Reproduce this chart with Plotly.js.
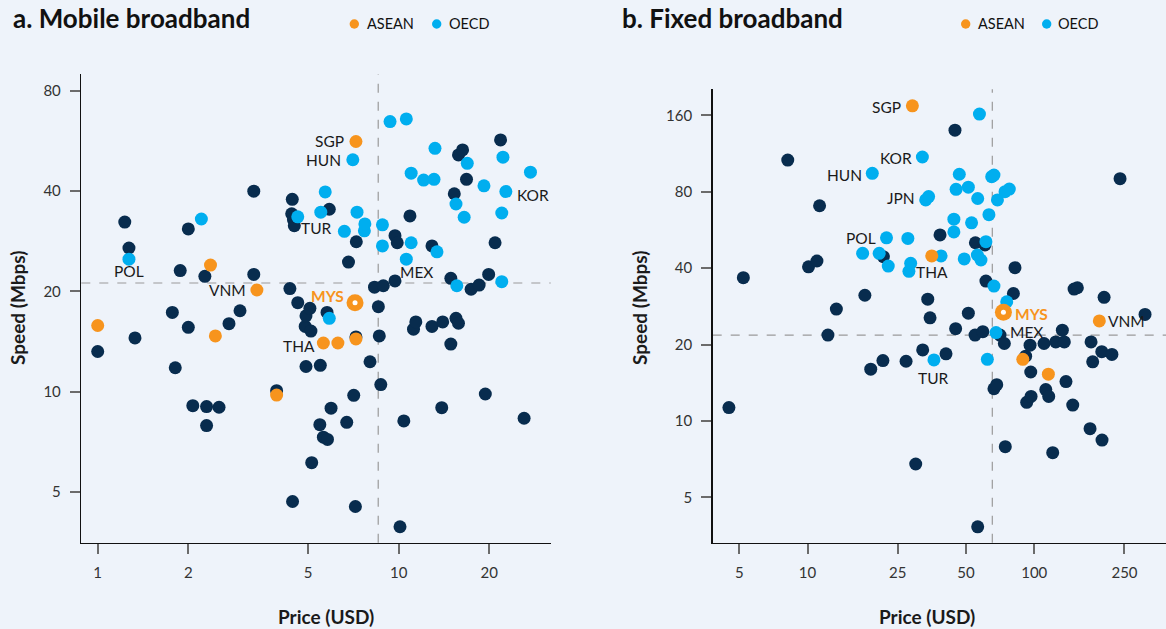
<!DOCTYPE html>
<html>
<head>
<meta charset="utf-8">
<script src="https://cdn.plot.ly/plotly-3.0.1.min.js"></script>
<style>html,body{margin:0;padding:0;background:#eef3fa;}#chart{width:1166px;height:629px;}</style>
</head>
<body>
<div id="chart"></div>
<script>
// ---------- Panel a: Mobile broadband ----------
const mobileOtherPrice = [1.0,1.23,1.27,1.33,1.77,1.81,1.88,2.0,2.0,2.07,2.27,2.30,2.30,2.53,2.73,2.97,3.30,3.30,3.93,4.35,4.41,4.43,4.44,4.47,4.50,4.62,4.89,4.92,4.92,5.07,5.11,5.14,5.47,5.49,5.62,5.78,5.80,5.88,5.96,6.72,6.81,7.09,7.18,7.21,7.23,8.03,8.31,8.56,8.62,8.72,8.89,9.72,9.72,9.89,10.1,10.4,10.9,11.2,11.4,12.9,12.9,13.9,14.0,14.9,14.9,15.3,15.5,15.8,15.8,16.3,16.8,17.4,18.5,19.4,19.9,20.9,21.8,26.1];
const mobileOtherSpeed = [13.2,32.3,27.0,14.5,17.3,11.8,23.1,30.8,15.6,9.08,22.2,9.02,7.91,8.98,16.0,17.5,22.5,40.0,10.07,20.4,34.2,37.8,4.68,32.8,31.5,18.5,15.7,16.9,11.9,17.8,15.2,6.12,7.96,12.0,7.30,17.3,7.19,35.3,8.92,8.09,24.5,9.75,4.52,14.6,28.2,12.3,20.6,18.0,14.7,10.5,20.8,29.4,21.5,28.0,3.93,8.17,33.7,15.4,16.2,27.4,15.7,8.95,16.2,21.9,13.9,39.3,16.6,51.4,16.05,53.2,43.4,20.3,20.9,9.84,22.5,28.0,57.0,8.32];
const mobileOecdPrice = [1.27,2.21,4.62,5.51,5.70,5.88,6.60,7.04,7.27,7.69,7.72,8.83,8.83,9.36,10.6,10.6,11.0,11.0,12.1,13.1,13.2,13.4,15.5,15.6,16.5,16.9,19.2,22.0,22.0,22.2,22.7,27.4];
const mobileOecdSpeed = [25.0,33.0,33.5,34.6,39.8,16.6,30.3,49.7,34.6,30.4,31.9,31.7,27.4,64.7,65.9,25.0,45.3,28.0,43.2,43.4,53.8,26.3,36.6,20.8,33.4,48.5,41.5,34.4,21.4,50.6,39.9,45.6];
const mobileAseanPrice = [1.0,2.37,2.46,3.38,3.93,5.62,6.28,7.21,7.21];
const mobileAseanSpeed = [15.8,24.0,14.7,20.2,9.77,14.0,14.0,14.4,56.4];
const mobileMysPrice = [7.16];
const mobileMysSpeed = [18.5];
const mobileMedianPrice = 8.55;
const mobileMedianSpeed = 21.2;

// ---------- Panel b: Fixed broadband ----------
const fixedOtherPrice = [4.50,5.21,8.18,10.1,11.0,11.3,12.3,13.4,17.9,19.0,21.5,21.6,27.2,30.0,32.2,33.9,34.7,38.4,40.8,44.7,45.0,51.2,54.8,55.0,56.3,59.3,60.6,61.2,66.4,68.3,70.6,73.8,74.5,80.9,82.2,91.6,92.6,95.8,96.5,96.8,110.4,112.4,115.8,120.6,124.4,133,135.7,138,147.8,149.8,154.9,176.2,178,181,198.5,199,203.2,220,239,308];
const fixedOtherSpeed = [11.3,36.7,106.7,40.5,42.7,70.5,21.8,27.6,31.3,16.0,17.3,44.4,17.2,6.77,19.05,30.2,25.5,54.1,18.4,140,23.1,26.6,21.8,50.4,3.83,22.5,49.4,35.6,13.4,13.9,21.8,20.2,7.92,31.8,40.2,18.0,11.85,19.9,15.6,12.5,20.2,13.3,12.5,7.50,20.5,22.8,20.5,14.3,11.56,33.1,33.5,9.33,20.5,17.1,18.75,8.41,30.7,18.3,90.1,26.3];
const fixedOecdPrice = [17.5,19.3,20.7,22.3,22.7,27.7,28.0,28.5,32.1,33.2,34.2,36.1,38.8,44.2,44.2,45.2,46.7,49.1,51.2,52.9,56.1,56.3,57.3,58.2,61.2,62.1,63.1,64.9,66.4,66.4,67.8,68.8,74.3,75.6,77.6];
const fixedOecdSpeed = [45.8,94.6,45.8,52.7,40.8,52.4,38.9,41.8,109.7,74.3,76.6,17.4,44.7,62.4,55.6,81.8,93.8,43.5,83.4,60.4,45.1,75.3,162,43.1,50.9,17.5,65.0,91.8,93.1,34.0,22.3,74.3,80.1,29.5,82.0];
const fixedAseanPrice = [29.0,35.3,89.0,115.4,193.6];
const fixedAseanSpeed = [174.6,44.7,17.5,15.3,24.8];
const fixedMysPrice = [73.1];
const fixedMysSpeed = [26.8];
const fixedMedianPrice = 65.3;
const fixedMedianSpeed = 21.8;

// ---------- Labels ----------
const mobileLabels = ['SGP','HUN','KOR','TUR','MEX','MYS','THA','VNM','POL'];
const mobileLabelPrice = [7.21,7.04,22.7,6.60,10.6,7.16,5.62,3.38,1.27];
const mobileLabelSpeed = [56.4,49.7,39.9,30.3,25.0,18.5,14.0,20.2,25.0];
const fixedLabels = ['SGP','KOR','HUN','JPN','POL','THA','MYS','MEX','VNM','TUR'];
const fixedLabelPrice = [29.0,32.1,19.3,33.2,22.3,35.3,73.1,67.8,193.6,36.1];
const fixedLabelSpeed = [174.6,109.7,94.6,74.3,52.7,44.7,26.8,22.3,24.8,17.4];

const mobileXTicks = [1,2,5,10,20];
const mobileYTicks = [5,10,20,40,80];
const fixedXTicks = [5,10,25,50,100,250];
const fixedYTicks = [5,10,20,40,80,160];

// ---------- Styling ----------
const NAVY = '#082c4e', BLUE = '#00aeef', ORANGE = '#f7941d', BG = '#eef3fa';
const W = 1166, H = 629;
const MS = 13;
const FONT = 'Lato, "Open Sans", sans-serif';

function pts(x, y, color, xa, ya, size) {
  return {type:'scatter', mode:'markers', x:x, y:y, xaxis:xa, yaxis:ya,
    marker:{color:color, size:size||MS, line:{width:0}}, hoverinfo:'x+y', showlegend:false};
}

const traces = [
  pts(mobileOtherPrice, mobileOtherSpeed, NAVY, 'x', 'y'),
  pts(mobileOecdPrice, mobileOecdSpeed, BLUE, 'x', 'y'),
  pts(mobileAseanPrice, mobileAseanSpeed, ORANGE, 'x', 'y'),
  pts(mobileMysPrice, mobileMysSpeed, ORANGE, 'x', 'y', 17),
  pts(mobileMysPrice, mobileMysSpeed, '#ffffff', 'x', 'y', 5),
  pts(fixedOtherPrice, fixedOtherSpeed, NAVY, 'x2', 'y2'),
  pts(fixedOecdPrice, fixedOecdSpeed, BLUE, 'x2', 'y2'),
  pts(fixedAseanPrice, fixedAseanSpeed, ORANGE, 'x2', 'y2'),
  pts(fixedMysPrice, fixedMysSpeed, ORANGE, 'x2', 'y2', 17),
  pts(fixedMysPrice, fixedMysSpeed, '#ffffff', 'x2', 'y2', 5)
];

function axisBase(extra) {
  return Object.assign({
    type:'log', showgrid:false, zeroline:false, showline:true,
    linecolor:'#111', linewidth:1.5, ticks:'outside', ticklen:10, tickwidth:2,
    tickcolor:'#6b6b6b', tickfont:{size:15, color:'#333', family:FONT},
    ticklabelstandoff:6, fixedrange:true
  }, extra);
}

const px = v => v / W;
const py = v => 1 - v / H;

// label placement (pixel offsets from the point)
const mobileLabelPos = {
  SGP:{xanchor:'right', xshift:-10, yshift:0},
  HUN:{xanchor:'right', xshift:-10, yshift:0},
  KOR:{xanchor:'left', xshift:9, yshift:-3},
  TUR:{xanchor:'right', xshift:-10, yshift:3},
  MEX:{xanchor:'center', xshift:10, yshift:-13},
  MYS:{xanchor:'right', xshift:-9, yshift:7},
  THA:{xanchor:'right', xshift:-6, yshift:-3},
  VNM:{xanchor:'right', xshift:-9, yshift:0},
  POL:{xanchor:'center', xshift:0, yshift:-12}
};
const fixedLabelPos = {
  SGP:{xanchor:'right', xshift:-9, yshift:-1},
  KOR:{xanchor:'right', xshift:-8, yshift:-1},
  HUN:{xanchor:'right', xshift:-8, yshift:-2},
  JPN:{xanchor:'right', xshift:-9, yshift:2},
  POL:{xanchor:'right', xshift:-9, yshift:0},
  THA:{xanchor:'center', xshift:0, yshift:-16},
  MYS:{xanchor:'left', xshift:10, yshift:-2},
  MEX:{xanchor:'left', xshift:12, yshift:1},
  VNM:{xanchor:'left', xshift:7, yshift:0},
  TUR:{xanchor:'center', xshift:0, yshift:-18}
};

const annotations = [];
function addLabels(names, xs, ys, pos, xr, yr) {
  names.forEach((n, i) => {
    const p = pos[n];
    const isMys = n === 'MYS';
    annotations.push({
      xref:xr, yref:yr, x:Math.log10(xs[i]), y:Math.log10(ys[i]),
      text: isMys ? '<b>' + n + '</b>' : n, showarrow:false,
      xanchor:p.xanchor, yanchor:'middle', xshift:p.xshift, yshift:p.yshift,
      font:{size:15.5, color: isMys ? ORANGE : '#1a1a1a', family:FONT}
    });
  });
}
addLabels(mobileLabels, mobileLabelPrice, mobileLabelSpeed, mobileLabelPos, 'x', 'y');
addLabels(fixedLabels, fixedLabelPrice, fixedLabelSpeed, fixedLabelPos, 'x2', 'y2');

// titles
annotations.push({xref:'paper', yref:'paper', x:px(11), y:py(18), xanchor:'left', yanchor:'middle',
  text:'<b>a. Mobile broadband</b>', showarrow:false, font:{size:26, color:'#111', family:FONT}});
annotations.push({xref:'paper', yref:'paper', x:px(620), y:py(18), xanchor:'left', yanchor:'middle',
  text:'<b>b. Fixed broadband</b>', showarrow:false, font:{size:26, color:'#111', family:FONT}});

// axis titles
[[18, 308],[640, 308]].forEach(([x, y]) => annotations.push({xref:'paper', yref:'paper', x:px(x), y:py(y),
  xanchor:'center', yanchor:'middle', textangle:-90, text:'<b>Speed (Mbps)</b>', showarrow:false,
  font:{size:19, color:'#1a1a1a', family:FONT}}));
[[326, 616],[927, 616]].forEach(([x, y]) => annotations.push({xref:'paper', yref:'paper', x:px(x), y:py(y),
  xanchor:'center', yanchor:'middle', text:'<b>Price (USD)</b>', showarrow:false,
  font:{size:19, color:'#1a1a1a', family:FONT}}));

// legends
const shapes = [];
function legend(dotX, textX, color, label) {
  shapes.push({type:'circle', xref:'paper', yref:'paper', xsizemode:'pixel', ysizemode:'pixel',
    xanchor:px(dotX), yanchor:py(24), x0:-4.7, x1:4.7, y0:-4.7, y1:4.7,
    fillcolor:color, line:{width:0}});
  annotations.push({xref:'paper', yref:'paper', x:px(textX), y:py(24), xanchor:'left', yanchor:'middle',
    text:label, showarrow:false, font:{size:14.5, color:'#111', family:FONT}});
}
legend(354.3, 364.5, ORANGE, 'ASEAN');
legend(436.7, 446.5, BLUE, 'OECD');
legend(965.7, 975.5, ORANGE, 'ASEAN');
legend(1046.7, 1056, BLUE, 'OECD');

// median dashed lines
const dash = {color:'#9a9a9a', width:1.2, dash:'dash'};
shapes.push({type:'line', xref:'x', yref:'y domain', x0:mobileMedianPrice, x1:mobileMedianPrice, y0:0, y1:1, line:dash, layer:'below'});
shapes.push({type:'line', xref:'x domain', yref:'y', x0:0, x1:1, y0:mobileMedianSpeed, y1:mobileMedianSpeed, line:dash, layer:'below'});
shapes.push({type:'line', xref:'x2', yref:'y2 domain', x0:fixedMedianPrice, x1:fixedMedianPrice, y0:0, y1:1, line:dash, layer:'below'});
shapes.push({type:'line', xref:'x2 domain', yref:'y2', x0:0, x1:1, y0:fixedMedianSpeed, y1:fixedMedianSpeed, line:dash, layer:'below'});

const layout = {
  width:W, height:H, margin:{l:0, r:0, t:0, b:0},
  paper_bgcolor:BG, plot_bgcolor:BG, showlegend:false,
  font:{family:FONT, color:'#222'},
  xaxis: axisBase({domain:[px(81.3), px(550.7)], range:[-0.0545, 1.505], anchor:'y',
    tickvals:mobileXTicks, ticktext:mobileXTicks.map(String)}),
  yaxis: axisBase({domain:[py(542.7), py(74.3)], range:[0.5465, 1.953], anchor:'x',
    tickvals:mobileYTicks, ticktext:mobileYTicks.map(String)}),
  xaxis2: axisBase({domain:[px(712.7), 1], range:[0.5817, 2.581], anchor:'y2',
    tickvals:fixedXTicks, ticktext:fixedXTicks.map(String)}),
  yaxis2: axisBase({domain:[py(542.7), py(89.3)], range:[0.5205, 2.307], anchor:'x2',
    tickvals:fixedYTicks, ticktext:fixedYTicks.map(String)}),
  annotations:annotations, shapes:shapes
};

Plotly.newPlot('chart', traces, layout, {displayModeBar:false, staticPlot:true});
</script>
</body>
</html>
